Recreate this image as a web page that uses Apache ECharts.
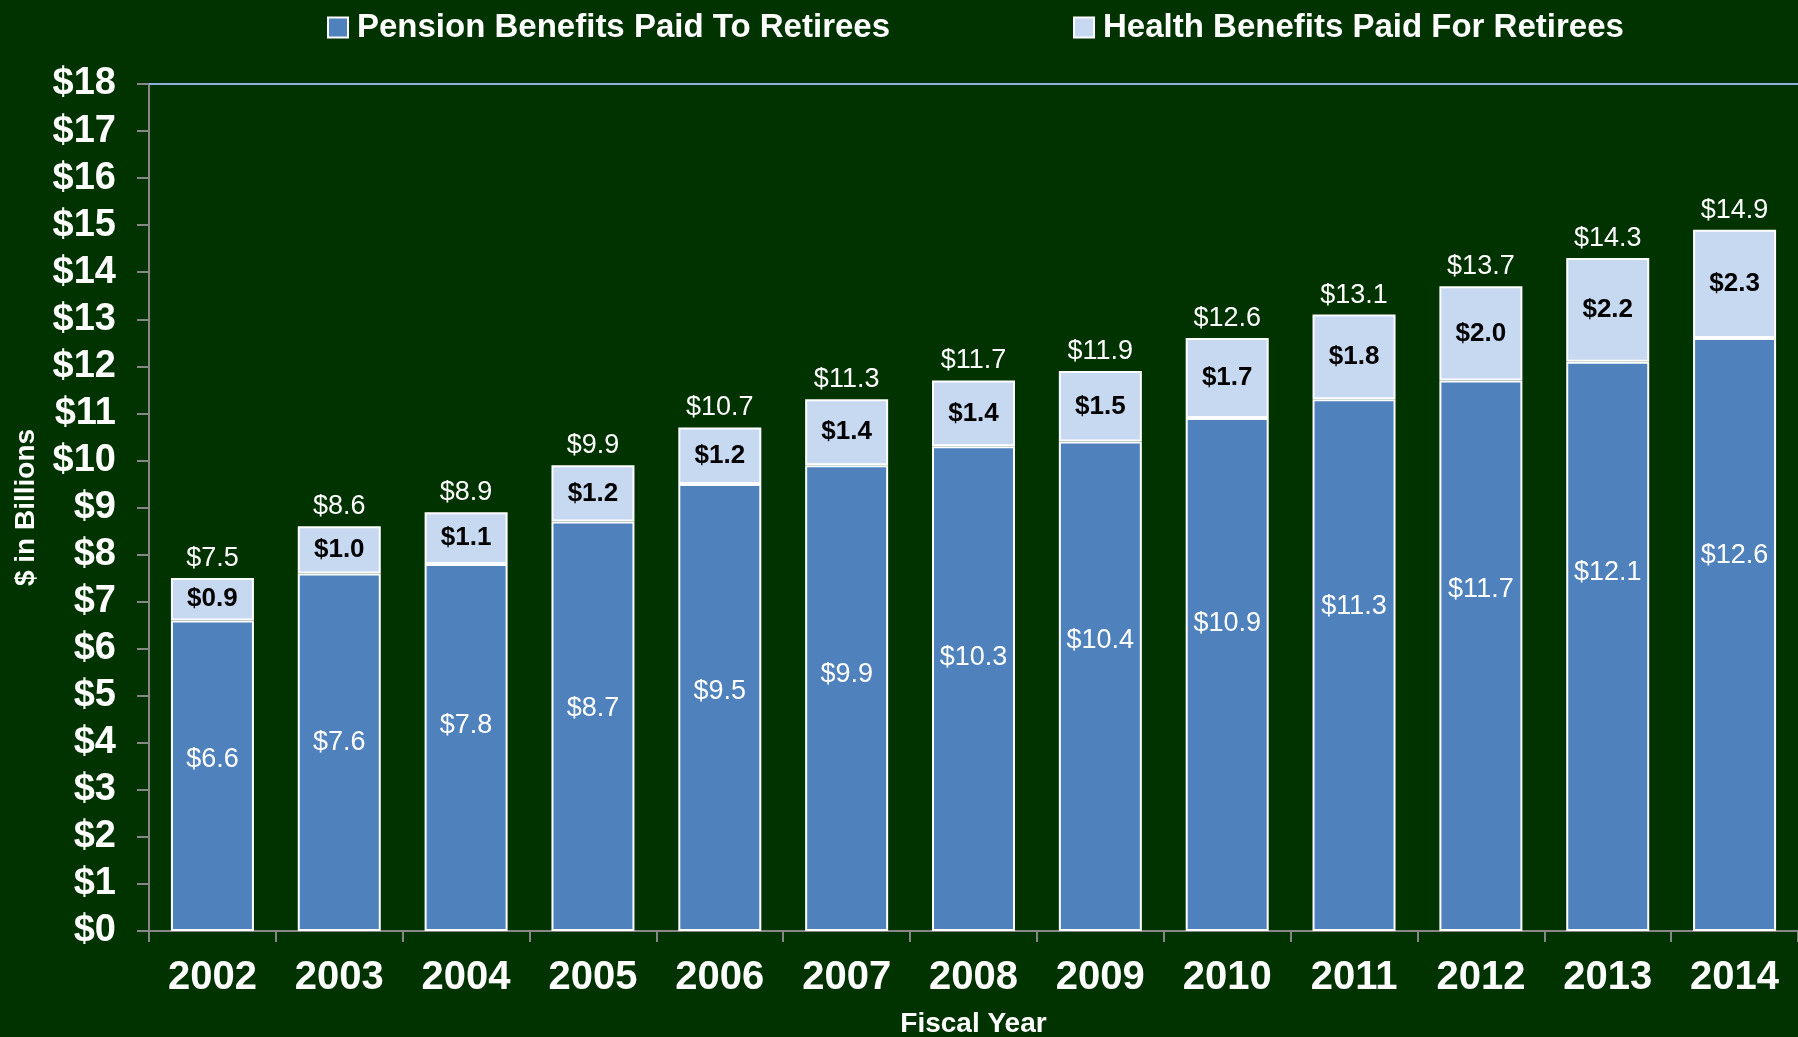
<!DOCTYPE html>
<html>
<head>
<meta charset="utf-8">
<title>Retiree Benefits Paid</title>
<script src="https://cdn.jsdelivr.net/npm/echarts@6/dist/echarts.min.js"></script>
<style>
  html, body { margin: 0; padding: 0; background: #003300; overflow: hidden; }
  #chart { width: 100vw; height: 100vh; }
</style>
</head>
<body>
<div id="chart"></div>
<script>
// Fiscal years on the category axis
const years = ['2002', '2003', '2004', '2005', '2006', '2007', '2008', '2009', '2010', '2011', '2012', '2013', '2014'];

// Benefits paid, $ in billions
const pensionPaid = [6.6, 7.6, 7.8, 8.7, 9.5, 9.9, 10.3, 10.4, 10.9, 11.3, 11.7, 12.1, 12.6];
const healthPaid  = [0.9, 1.0, 1.1, 1.2, 1.2, 1.4, 1.4, 1.5, 1.7, 1.8, 2.0, 2.2, 2.3];
const totalPaid   = [7.5, 8.6, 8.9, 9.9, 10.7, 11.3, 11.7, 11.9, 12.6, 13.1, 13.7, 14.3, 14.9];

// Value axis ticks
const yTicks = { min: 0, max: 18, interval: 1 };

const FONT = "'Liberation Sans', Arial, sans-serif";
const money = v => '$' + Number(v).toFixed(1);

// Pension labels sit on a gently rising guide line rather than at bar centres
const guideBase = 3.65, guideStep = 0.36;
const pensionData = pensionPaid.map((v, i) => {
  const fromTop = (1 - (guideBase + guideStep * i) / v) * 100;
  return { value: v, label: { position: ['50%', fromTop.toFixed(2) + '%'] } };
});

const el = document.getElementById('chart');
const chart = echarts.init(el, null, { renderer: 'canvas' });

const plotTop = 84;
const plotBottom = 931;
const BAR_W = 83;

chart.setOption({
  backgroundColor: '#003300',
  animation: false,
  textStyle: { fontFamily: FONT },
  legend: {
    data: ['Pension Benefits Paid To Retirees', 'Health Benefits Paid For Retirees'],
    left: 322,
    top: 6,
    itemGap: 183,
    itemWidth: 20,
    itemHeight: 20,
    icon: 'rect',
    itemStyle: { borderColor: '#ffffff', borderWidth: 2 },
    textStyle: { color: '#ffffff', fontSize: 33, fontWeight: 'bold', fontFamily: FONT, padding: [0, 0, 0, 4] }
  },
  grid: {
    left: 149, right: 0, top: plotTop, height: plotBottom - plotTop,
    containLabel: false,
    outerBoundsMode: 'none'
  },
  xAxis: [
    {
      type: 'category',
      data: years,
      position: 'bottom',
      name: 'Fiscal Year',
      nameLocation: 'middle',
      nameGap: 79,
      nameTextStyle: { color: '#ffffff', fontSize: 28, fontWeight: 'bold', fontFamily: FONT },
      axisLine: { show: true, lineStyle: { color: '#878787', width: 2 } },
      axisTick: { show: true, length: 11, lineStyle: { color: '#878787', width: 2 } },
      axisLabel: { color: '#ffffff', fontSize: 40, fontWeight: 'bold', fontFamily: FONT, margin: 27 },
      splitLine: { show: false }
    },
    {
      // plain rule along the top of the plot area
      type: 'category',
      data: years,
      position: 'top',
      axisLine: { show: true, lineStyle: { color: '#8fb0dc', width: 2 } },
      axisTick: { show: false },
      axisLabel: { show: false },
      splitLine: { show: false }
    }
  ],
  yAxis: {
    type: 'value',
    min: yTicks.min,
    max: yTicks.max,
    interval: yTicks.interval,
    name: '$ in Billions',
    nameLocation: 'middle',
    nameGap: 109,
    nameTextStyle: { color: '#ffffff', fontSize: 28, fontWeight: 'bold', fontFamily: FONT },
    axisLine: { show: true, lineStyle: { color: '#878787', width: 2 } },
    axisTick: { show: true, length: 12, lineStyle: { color: '#878787', width: 2 } },
    axisLabel: {
      color: '#ffffff', fontSize: 38, fontWeight: 'bold', fontFamily: FONT, margin: 33,
      formatter: v => '$' + v
    },
    splitLine: { show: false }
  },
  series: [
    {
      name: 'Pension Benefits Paid To Retirees',
      type: 'bar',
      stack: 'paid',
      barWidth: BAR_W,
      data: pensionData,
      itemStyle: { color: '#4f81bd', borderColor: '#ffffff', borderWidth: 2 },
      label: {
        show: true,
        align: 'center',
        verticalAlign: 'middle',
        color: '#ffffff',
        fontSize: 27,
        fontFamily: FONT,
        formatter: p => money(p.value)
      },
      emphasis: { disabled: true }
    },
    {
      name: 'Health Benefits Paid For Retirees',
      type: 'bar',
      stack: 'paid',
      barWidth: BAR_W,
      data: healthPaid,
      itemStyle: { color: '#c6d9f1', borderColor: '#ffffff', borderWidth: 2 },
      label: {
        show: true,
        position: 'inside',
        color: '#000000',
        fontSize: 26,
        fontWeight: 'bold',
        fontFamily: FONT,
        formatter: p => money(p.value)
      },
      emphasis: { disabled: true }
    },
    {
      name: 'Total',
      type: 'bar',
      barWidth: BAR_W,
      barGap: '-100%',
      data: totalPaid,
      silent: true,
      z: 1,
      itemStyle: { color: 'rgba(0,0,0,0)' },
      label: {
        show: true,
        position: 'top',
        distance: 6,
        color: '#ffffff',
        fontSize: 27,
        fontFamily: FONT,
        formatter: p => money(p.value)
      },
      emphasis: { disabled: true }
    }
  ]
});
</script>
</body>
</html>
